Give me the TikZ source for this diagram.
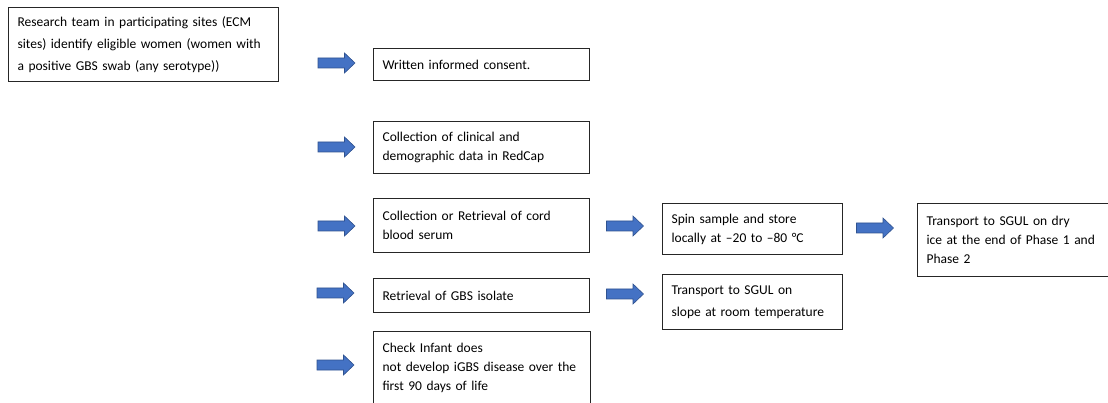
\documentclass[tikz,border=0pt]{standalone}
\usepackage{fontspec}
\setmainfont{Carlito}
\usetikzlibrary{calc}
\definecolor{arrowblue}{HTML}{4472C4}
\definecolor{arrowedge}{HTML}{2F528F}
\definecolor{boxline}{HTML}{262626}
\begin{document}
\begin{tikzpicture}[x=1pt,y=-1pt,
  box/.style={draw=boxline, line width=1.1pt, rectangle, anchor=north west,
    inner xsep=9pt, inner ysep=0pt, align=left, text=black,
    font=\fontsize{13.5}{19}\selectfont},
  widelines/.style={font=\fontsize{13.5}{22}\selectfont},
  pics/blockarrow/.style={code={
    \filldraw[fill=arrowblue, draw=arrowedge, line width=0.6pt]
      (-18.5,-5) -- (8,-5) -- (8,-10) -- (18.5,0) -- (8,10) -- (8,5) -- (-18.5,5) -- cycle;}}]
\useasboundingbox (0,0) rectangle (1108,403);
\clip (0,0) rectangle (1108,403);

% boxes
\node[box, widelines, minimum width=270pt, minimum height=74pt, text width=252pt] (b1) at (8,7)
  {Research team in participating sites (ECM\\ sites) identify eligible women (women with\\ a positive GBS swab (any serotype))};
\node[box, minimum width=216pt, minimum height=32pt, text width=198pt] (b2) at (373,48)
  {Written informed consent.};
\node[box, minimum width=216pt, minimum height=52pt, text width=198pt] (b3) at (373,121)
  {Collection of clinical and\\ demographic data in RedCap};
\node[box, minimum width=216pt, minimum height=54pt, text width=198pt] (b4) at (373,198)
  {Collection or Retrieval of cord\\ blood serum};
\node[box, minimum width=180pt, minimum height=51pt, text width=162pt] (b5) at (662,203)
  {Spin sample and store\\ locally at –20 to –80 °C};
\node[box, minimum width=200pt, minimum height=73pt, text width=182pt] (b6) at (917,203)
  {Transport to SGUL on dry\\ ice at the end of Phase 1 and\\ Phase 2};
\node[box, minimum width=216pt, minimum height=34pt, text width=198pt] (b7) at (373,278)
  {Retrieval of GBS isolate};
\node[box, widelines, minimum width=180pt, minimum height=55pt, text width=162pt] (b8) at (662,274)
  {Transport to SGUL on\\ slope at room temperature};
\node[box, minimum width=217pt, minimum height=73pt, text width=199pt] (b9) at (373,331)
  {Check Infant does\\ not develop iGBS disease over the\\ first 90 days of life};

% block arrows
\coordinate (a1) at (336.5,63);
\coordinate (a2) at (336.5,147);
\coordinate (a3) at (336.5,226);
\coordinate (a4) at (625,226);
\coordinate (a5) at (875,228);
\coordinate (a6) at (335.5,293);
\coordinate (a7) at (625,294);
\coordinate (a8) at (335.5,365);
\foreach \a in {a1,a2,a3,a4,a5,a6,a7,a8}
  \pic at (\a) {blockarrow};
\end{tikzpicture}
\end{document}
